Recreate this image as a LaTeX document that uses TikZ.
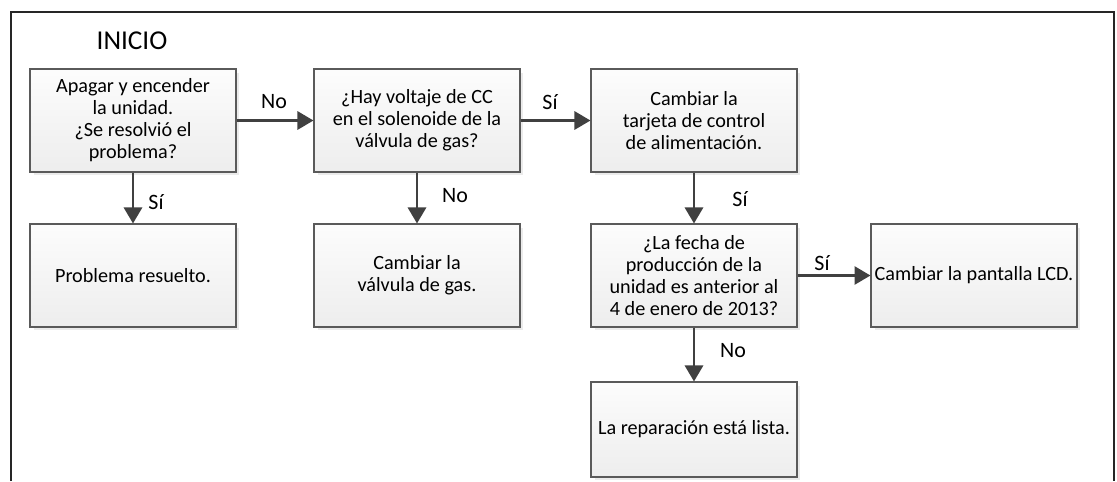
\documentclass[tikz,border=0pt]{standalone}
\usepackage{fontspec}
\setmainfont{Carlito}
\usepackage{xcolor}
\usepackage{tikz}
\usetikzlibrary{arrows.meta, shadows}
\definecolor{linegray}{HTML}{404040}
\definecolor{edgegray}{HTML}{5A5A5A}
\tikzset{
  stepbox/.style={rectangle, draw=edgegray, line width=0.6pt, top color=gray!2, bottom color=gray!14,
    minimum width=4.12cm, minimum height=2.06cm, inner sep=1pt, align=center,
    font=\fontsize{11.5}{12.5}\selectfont,
    drop shadow={shadow xshift=0.07cm, shadow yshift=-0.07cm, opacity=0.22, fill=gray!70}},
  flow/.style={-{Triangle[length=0.32cm, width=0.36cm]}, line width=1.7pt, draw=linegray},
  lbl/.style={font=\fontsize{12.5}{14}\selectfont, inner sep=0pt},
}

\begin{document}
\begin{tikzpicture}[x=0.02cm, y=-0.02cm]
    \useasboundingbox (0,0) rectangle (1117,481);
    \draw[line width=1.6pt, black!85] (11,481) -- (11,12) -- (1114,12) -- (1114,481);
    \node[font=\fontsize{15.5}{18}\selectfont, inner sep=0pt] (inicio) at (132,41) {INICIO};
    % first row
    \node[stepbox] (apagar) at (133,120.5) {Apagar y encender\\la unidad.\\¿Se resolvió el\\problema?};
    \node[stepbox] (voltaje) at (417,120.5) {¿Hay voltaje de CC\\en el solenoide de la\\válvula de gas?};
    \node[stepbox] (tarjeta) at (694,120.5) {Cambiar la\\tarjeta de control\\de alimentación.};
    % second row
    \node[stepbox] (resuelto) at (133,275.5) {Problema resuelto.};
    \node[stepbox] (valvula) at (417,275.5) {Cambiar la\\válvula de gas.};
    \node[stepbox] (fecha) at (694,275.5) {¿La fecha de\\producción de la\\unidad es anterior al\\4 de enero de 2013?};
    \node[stepbox] (pantalla) at (974,275.5) {Cambiar la pantalla LCD.};
    % last one
    \node[stepbox, minimum height=1.9cm] (lista) at (694,429.5) {La reparación está lista.};
    \draw[flow] (apagar) -- (voltaje);
    \draw[flow] (voltaje) -- (tarjeta);
    \draw[flow] (apagar) -- (resuelto);
    \draw[flow] (voltaje) -- (valvula);
    \draw[flow] (tarjeta) -- (fecha);
    \draw[flow] (fecha) -- (pantalla);
    \draw[flow] (fecha) -- (lista);
    \node[lbl] (no1) at (274,102) {No};
    \node[lbl] (si1) at (550,102) {Sí};
    \node[lbl] (si2) at (156,202) {Sí};
    \node[lbl] (no2) at (455,196) {No};
    \node[lbl] (si3) at (740,199) {Sí};
    \node[lbl] (si4) at (822,263) {Sí};
    \node[lbl] (no3) at (733,351) {No};
  \end{tikzpicture}
\end{document}
